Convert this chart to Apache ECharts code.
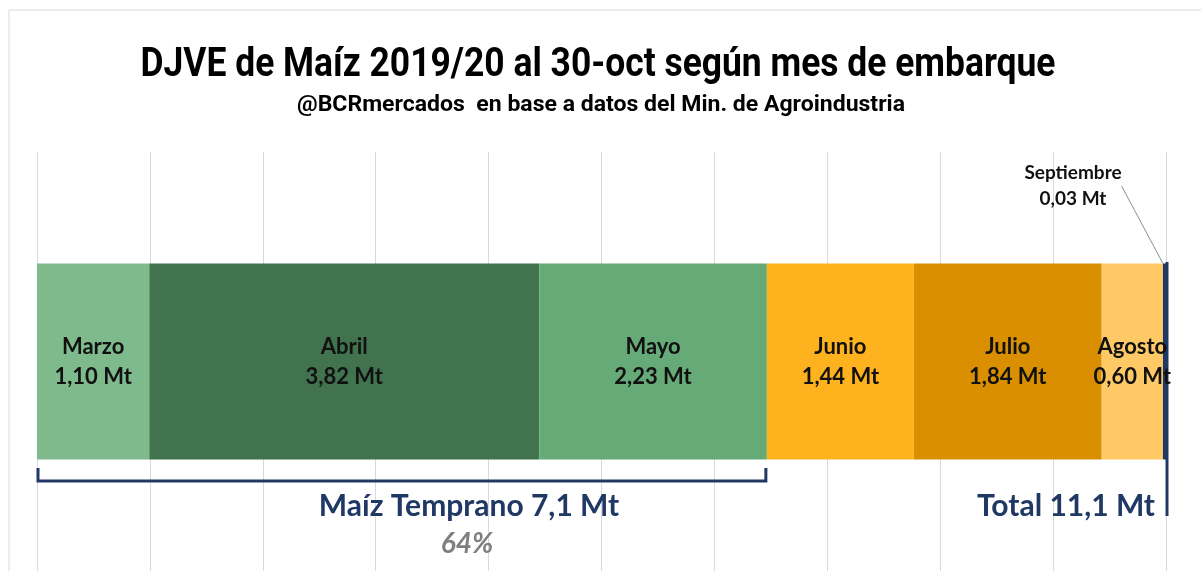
<!DOCTYPE html>
<html>
<head>
<meta charset="utf-8">
<script src="https://cdn.jsdelivr.net/npm/echarts@6/dist/echarts.min.js"></script>
<style>
  html, body { margin: 0; padding: 0; background: #fff; }
  #chart { width: 1201px; height: 571px; }
</style>
</head>
<body>
<div id="chart"></div>
<script>
// datos: DJVE por mes de embarque (Mt)
const meses = ['Marzo', 'Abril', 'Mayo', 'Junio', 'Julio', 'Agosto', 'Septiembre']
const valores = [1.10, 3.82, 2.23, 1.44, 1.84, 0.60, 0.03]
const colores = ['#7fba8d', '#41744e', '#66aa78', '#fdb21e', '#d98f00', '#ffc966', '#1f3864']
const mesesTempranos = 3
const textos = ['Maíz Temprano 7,1 Mt', '64%', 'Total 11,1 Mt']
const titulo = 'DJVE de Maíz 2019/20 al 30-oct según mes de embarque'
const subtitulo = '@BCRmercados  en base a datos del Min. de Agroindustria'

const total = valores.reduce((a, b) => a + b, 0)
const fmt = v => v.toFixed(2).replace('.', ',') + ' Mt'
const fuente = 'Lato, "Open Sans", sans-serif'
const fuenteTitulo = 'Roboto, "Liberation Sans", sans-serif'

// ancho de texto para simular una fuente condensada
const ctx = document.createElement('canvas').getContext('2d')
function ancho(txt, font) {
  ctx.font = font
  return ctx.measureText(txt).width
}
const fTit = 'bold 40px ' + fuenteTitulo
const fSub = 'bold 22px ' + fuenteTitulo
const escTit = 915 / ancho(titulo, fTit)
const escSub = 608 / ancho(subtitulo, fSub)

const myChart = echarts.init(document.getElementById('chart'))

const series = meses.map((m, i) => {
  const s = {
    name: m,
    type: 'bar',
    stack: 'total',
    barWidth: 196,
    data: [valores[i]],
    itemStyle: { color: colores[i] },
    label: {
      show: true,
      position: 'inside',
      formatter: m + '\n' + fmt(valores[i]),
      color: '#111',
      fontFamily: fuente,
      fontWeight: 'bold',
      fontSize: 22,
      lineHeight: 30
    }
  }
  if (m === 'Septiembre') {
    s.label.fontSize = 19
    s.label.lineHeight = 26
    s.labelLayout = { x: 1073, y: 186, align: 'center', verticalAlign: 'middle' }
    s.labelLine = { show: true, lineStyle: { color: '#8c8c8c', width: 1 } }
  }
  return s
})

const option = {
  animation: false,
  grid: { left: 37, right: 35, top: 152, bottom: 0 },
  xAxis: {
    type: 'value',
    min: 0,
    max: total,
    interval: total / 10,
    axisLabel: { show: false },
    axisLine: { show: false },
    axisTick: { show: false },
    splitLine: { show: true, lineStyle: { color: '#d9d9d9', width: 1 } }
  },
  yAxis: {
    type: 'category',
    data: ['DJVE'],
    show: false
  },
  series: series
}

myChart.setOption(option)

// anotaciones: corchete de maíz temprano, línea del total y textos
const tempranos = valores.slice(0, mesesTempranos).reduce((a, b) => a + b, 0)
const x0 = myChart.convertToPixel({ xAxisIndex: 0 }, 0)
const xT = myChart.convertToPixel({ xAxisIndex: 0 }, tempranos)
const xTot = myChart.convertToPixel({ xAxisIndex: 0 }, total)
const navy = '#1f3864'

myChart.setOption({
  graphic: [
    {
      type: 'text',
      x: 598, y: 66, scaleX: escTit,
      style: { text: titulo, fill: '#000', align: 'center', verticalAlign: 'middle', font: fTit }
    },
    {
      type: 'text',
      x: 601, y: 105, scaleX: escSub,
      style: { text: subtitulo, fill: '#000', align: 'center', verticalAlign: 'middle', font: fSub }
    },
    {
      type: 'polyline',
      shape: { points: [[x0 + 1, 468], [x0 + 1, 481], [xT - 1, 481], [xT - 1, 468]] },
      style: { stroke: navy, lineWidth: 3, fill: null }
    },
    {
      type: 'line',
      shape: { x1: xTot + 1, y1: 262, x2: xTot + 1, y2: 516 },
      style: { stroke: navy, lineWidth: 3 }
    },
    {
      type: 'text',
      x: 469, y: 506,
      style: {
        text: textos[0], fill: navy, align: 'center', verticalAlign: 'middle',
        font: 'bold 30px ' + fuente
      }
    },
    {
      type: 'text',
      x: 467, y: 544,
      style: {
        text: textos[1], fill: '#7f7f7f', align: 'center', verticalAlign: 'middle',
        font: 'italic bold 28px ' + fuente
      }
    },
    {
      type: 'text',
      x: 1155, y: 506,
      style: {
        text: textos[2], fill: navy, align: 'right', verticalAlign: 'middle',
        font: 'bold 30px ' + fuente
      }
    },
    {
      type: 'polyline',
      shape: { points: [[9, 571], [9, 10], [1201, 10]] },
      style: { stroke: '#d9d9d9', lineWidth: 1, fill: null }
    }
  ]
})
</script>
</body>
</html>
